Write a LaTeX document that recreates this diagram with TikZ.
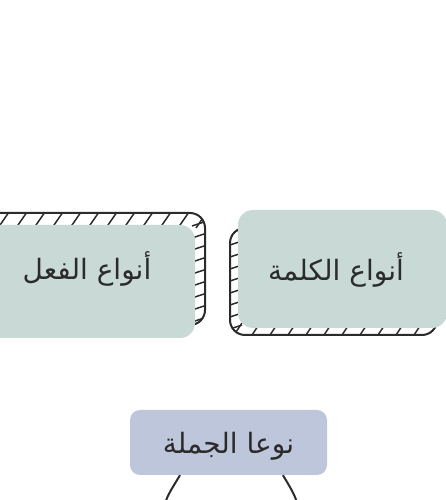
\documentclass[tikz,border=0pt]{standalone}
\usepackage{fontspec}
\newfontfamily\arabicfont[Script=Arabic]{DejaVu Sans}
\TeXXeTstate=1
\definecolor{sage}{HTML}{C9DAD6}
\definecolor{slate}{HTML}{BDC6DA}
\definecolor{ink}{HTML}{2B2B2B}

\begin{document}
\begin{tikzpicture}[x=1pt, y=1pt,
    frame/.style={draw=ink, line width=2pt, rounded corners=15pt},
    hatch/.style={draw=ink, line width=1.5pt},
    cardtext/.style={font=\arabicfont\fontsize{28}{32}\selectfont, text=ink},
    link/.style={draw=ink, line width=2pt}]
    \useasboundingbox (0,0) rectangle (446,500);
    \clip (0,0) rectangle (446,500);

    % left card
    \begin{scope}
        \clip[rounded corners=15pt] (-31,175) rectangle (205,287);
        \foreach \x in {-20,-2,...,200} \draw[hatch] (\x,272) -- ++(11,16);
        \foreach \y in {178,190,...,274} \draw[hatch] (192,\y) -- ++(15,5);
    \end{scope}
    \draw[frame] (-31,175) rectangle (205,287);
    \fill[sage, rounded corners=15pt] (-41,162) rectangle (195,275);
    \node[cardtext] (verb) at (87,231) {\beginR أنواع الفعل\endR};

    % right card
    \begin{scope}
        \clip[rounded corners=15pt] (230,165) rectangle (437,272);
        \foreach \x in {232,250,...,440} \draw[hatch] (\x,162) -- ++(10,15);
        \foreach \y in {170,182,...,266} \draw[hatch] (227,\y) -- ++(15,5);
    \end{scope}
    \draw[frame] (230,165) rectangle (437,272);
    \fill[sage, rounded corners=15pt] (238,172) rectangle (447,290);
    \node[cardtext] (word) at (336,230) {\beginR أنواع الكلمة\endR};

    % sentence box and its two links
    \node[cardtext, fill=slate, rounded corners=10pt, minimum width=197pt,
          minimum height=65pt, inner sep=0pt] (sentence) at (228.5,57.5)
          {\smash{\raisebox{-11pt}{\beginR نوعا الجملة\endR}}};
    \coordinate (nominal) at (162,-22);
    \coordinate (verbal) at (300,-22);
    \draw[link] (sentence.214) to[out=-121, in=90] (nominal);
    \draw[link] (sentence.329) to[out=-59, in=90] (verbal);
\end{tikzpicture}
\end{document}
